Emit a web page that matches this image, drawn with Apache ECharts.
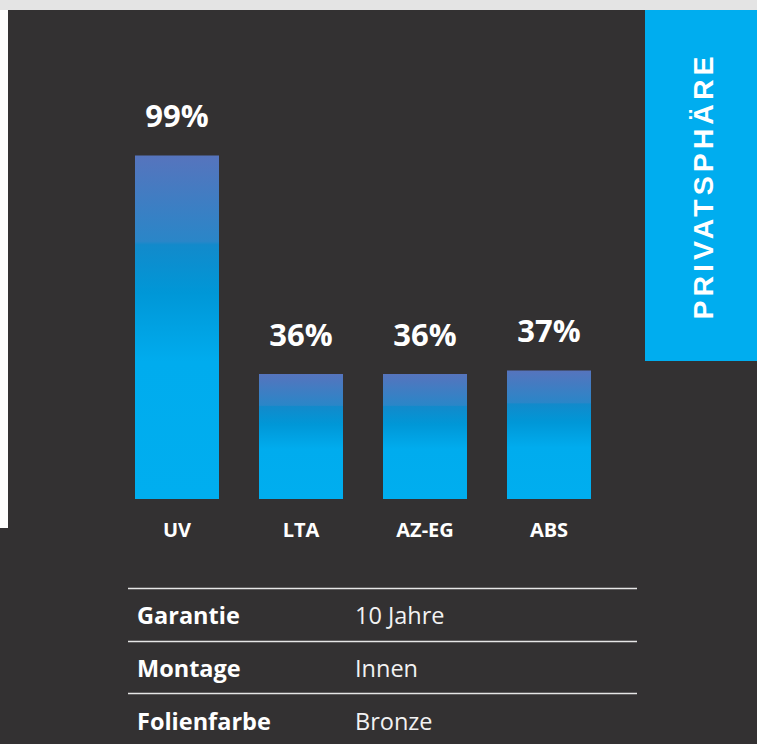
<!DOCTYPE html>
<html>
<head>
<meta charset="utf-8">
<script src="https://cdn.jsdelivr.net/npm/echarts@6/dist/echarts.min.js"></script>
<style>
  html, body { margin: 0; padding: 0; background: #333132; }
  #wrap { position: relative; width: 757px; height: 744px; }
  #chart { width: 757px; height: 744px; }
  #tab {
    position: absolute; left: 703px; top: 186px;
    transform: translate(-50%, -50%) rotate(-90deg);
    font: bold 28.5px "Liberation Sans", Arial, sans-serif;
    letter-spacing: 4px; color: #fff; white-space: nowrap;
  }
</style>
</head>
<body>
<div id="wrap">
  <div id="chart"></div>
  <div id="tab">PRIVATSPHÄRE</div>
</div>
<script>
// chart data
const categories = ["UV", "LTA", "AZ-EG", "ABS"];
const values = [99, 36, 36, 37];
// info table under the chart
const tableKeys = ["Garantie", "Montage", "Folienfarbe"];
const tableValues = ["10 Jahre", "Innen", "Bronze"];

const FONT = '"Open Sans", "Noto Sans", sans-serif';
const chart = echarts.init(document.getElementById("chart"), null, { renderer: "svg" });

const barFill = new echarts.graphic.LinearGradient(0, 0, 0, 1, [
  { offset: 0, color: "#5674bd" },
  { offset: 0.25, color: "#2a86c8" },
  { offset: 0.26, color: "#128acb" },
  { offset: 0.4, color: "#0097d7" },
  { offset: 0.6, color: "#00acee" },
  { offset: 1, color: "#00aeef" },
]);

// table lines + text
const rowLines = [588.5, 641.5, 693.5];
const tableGraphics = [];
rowLines.forEach((y) => {
  tableGraphics.push({
    type: "line",
    shape: { x1: 128, y1: y, x2: 637, y2: y },
    style: { stroke: "#e6e6e6", lineWidth: 1.5 },
  });
});
tableKeys.forEach((k, i) => {
  const cy = 615 + i * 53;
  tableGraphics.push({
    type: "text", x: 137, y: cy,
    style: { text: k, font: "bold 23.5px " + FONT, fill: "#ffffff", verticalAlign: "middle" },
  });
  tableGraphics.push({
    type: "text", x: 355, y: cy,
    style: { text: tableValues[i], font: "23.5px " + FONT, fill: "#f2f2f2", verticalAlign: "middle" },
  });
});

chart.setOption({
  backgroundColor: "#333132",
  animation: false,
  grid: { left: 115, right: 146, top: 152, bottom: 245 },
  xAxis: {
    type: "category",
    data: categories,
    axisLine: { show: false },
    axisTick: { show: false },
    axisLabel: { color: "#ffffff", fontFamily: FONT, fontWeight: "bold", fontSize: 20, margin: 20 },
    splitLine: { show: false },
  },
  yAxis: { type: "value", min: 0, max: 100, show: false },
  graphic: [
    { type: "rect", shape: { x: 0, y: 0, width: 757, height: 10 }, style: { fill: "#e4e4e4" } },
    { type: "rect", shape: { x: 0, y: 10, width: 8, height: 518 }, style: { fill: "#fdfdfd" } },
    { type: "rect", shape: { x: 645, y: 10, width: 112, height: 351 }, style: { fill: "#00adef" } },
    ...tableGraphics,
  ],
  series: [
    {
      type: "bar",
      data: values,
      barWidth: 84,
      itemStyle: { color: barFill },
      label: {
        show: true,
        position: "top",
        distance: 25,
        formatter: "{c}%",
        color: "#ffffff",
        fontFamily: FONT,
        fontWeight: "bold",
        fontSize: 31,
      },
    },
  ],
});
</script>
</body>
</html>
